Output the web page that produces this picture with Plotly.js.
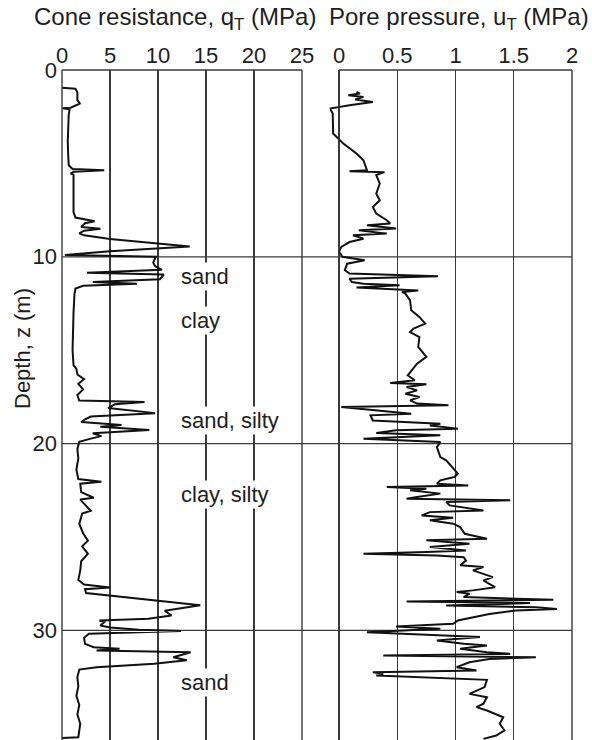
<!DOCTYPE html>
<html>
<head>
<meta charset="utf-8">
<script src="https://cdn.plot.ly/plotly-3.0.1.min.js"></script>
<style>html,body{margin:0;padding:0;background:#fff;}#chart{width:592px;height:740px;}</style>
</head>
<body>
<div id="chart"></div>
<script>
// Cone resistance profile: depth (m) and q_T (MPa)
const qDepth = [0.95,1.0,1.2,1.6,1.8,1.95,2.02,2.05,2.1,2.4,3.0,3.8,4.6,5.1,5.3,5.37,5.45,5.55,5.6,6.2,7.0,7.6,7.9,8.0,8.1,8.2,8.4,8.5,8.6,8.75,8.85,9.05,9.45,9.7,9.9,10.0,10.3,10.5,10.7,10.85,10.95,11.2,11.35,11.45,11.55,11.7,12.0,13.0,14.0,15.0,15.8,16.0,16.3,16.55,16.8,17.1,17.4,17.7,17.78,17.9,18.1,18.37,18.55,18.7,18.85,19.0,19.1,19.27,19.45,19.6,19.75,19.9,20.3,20.8,21.4,21.9,22.05,22.15,22.6,22.9,23.0,23.25,23.6,23.75,24.3,24.8,25.2,25.5,25.9,26.3,26.8,27.3,27.55,27.7,27.8,28.0,28.65,28.95,29.2,29.38,29.47,29.56,29.74,29.85,29.97,30.04,30.18,30.4,30.72,30.9,30.99,31.08,31.17,31.44,31.6,31.79,31.97,32.1,32.5,33.0,33.5,34.0,34.5,35.0,35.5,35.72,35.76];
const qValue = [0.0,1.4,1.6,1.6,1.85,1.3,0.9,0.05,0.8,0.7,0.65,0.6,0.65,0.7,1.1,4.4,1.2,0.9,1.2,1.2,1.15,1.2,1.4,2.5,3.4,2.4,2.0,4.0,2.3,1.8,2.3,5.0,13.3,5.0,0.3,9.8,9.5,9.7,10.4,2.6,10.6,10.2,3.2,7.8,2.2,1.4,1.3,1.2,1.15,1.1,1.2,1.5,1.6,2.3,1.7,2.2,1.6,1.8,8.6,5.5,4.8,9.7,3.0,2.4,2.0,6.2,4.0,9.1,3.2,4.1,2.9,1.8,1.6,1.7,1.5,1.7,4.1,1.9,2.0,3.3,1.9,2.4,3.0,2.1,1.8,2.2,2.7,2.1,2.7,2.0,1.9,1.7,2.3,5.0,2.4,2.5,14.4,10.7,11.4,9.0,3.9,4.4,4.0,5.0,8.0,12.4,2.8,2.3,2.4,3.3,6.0,3.6,13.4,11.6,13.0,9.6,3.6,1.8,1.6,1.7,1.5,1.8,1.6,1.9,1.8,1.7,0.0];

// Pore pressure profile: depth (m) and u_T (MPa)
const uDepth = [1.17,1.26,1.35,1.44,1.58,1.71,1.89,2.06,2.33,3.4,3.94,4.47,4.83,5.37,5.42,5.47,5.63,6.08,6.62,6.97,7.33,7.69,8.04,8.22,8.31,8.49,8.58,8.76,8.85,9.03,9.21,9.47,9.74,10.0,10.19,10.37,10.72,10.9,11.04,11.17,11.35,11.44,11.53,11.65,11.8,11.88,11.97,12.33,12.86,13.22,13.58,13.85,14.03,14.3,14.83,15.36,15.72,16.08,16.35,16.61,16.76,16.83,16.97,17.15,17.33,17.51,17.69,17.86,17.95,18.04,18.22,18.4,18.49,18.76,18.94,19.03,19.2,19.29,19.44,19.56,19.74,19.92,20.19,20.72,20.9,21.26,21.61,21.79,21.97,22.15,22.24,22.33,22.42,22.5,22.6,22.68,22.86,22.95,23.04,23.13,23.31,23.58,23.67,23.85,23.97,24.11,24.29,24.47,24.83,25.09,25.18,25.36,25.54,25.72,25.81,25.9,25.99,26.08,26.26,26.52,26.61,26.79,27.15,27.33,27.51,27.69,27.86,27.95,28.04,28.22,28.36,28.45,28.54,28.67,28.76,28.85,28.94,29.12,29.47,29.65,29.8,29.92,30.1,30.27,30.36,30.54,30.72,30.81,30.99,31.17,31.26,31.35,31.44,31.53,31.71,31.97,32.15,32.24,32.33,32.42,32.6,32.65,33.04,33.4,33.58,33.93,34.11,34.29,34.65,35.0,35.36,35.63,35.81];
const uValue = [0.15,0.18,0.08,0.21,0.14,0.29,0.09,-0.077,-0.054,-0.05,0.037,0.15,0.21,0.24,0.09,0.39,0.32,0.35,0.32,0.35,0.29,0.32,0.41,0.44,0.24,0.49,0.17,0.41,0.12,0.21,0.09,0.02,0.0,0.03,0.22,0.07,0.05,0.09,0.85,0.09,0.11,0.21,0.52,0.15,0.68,0.54,0.57,0.61,0.62,0.69,0.74,0.64,0.61,0.69,0.68,0.75,0.67,0.62,0.59,0.65,0.44,0.75,0.58,0.67,0.57,0.69,0.61,0.67,0.94,0.02,0.32,0.62,0.27,0.29,0.87,0.78,1.02,0.49,0.32,0.87,0.21,0.87,0.84,0.87,0.92,0.97,1.02,0.99,0.87,0.84,1.11,0.41,0.75,0.61,0.78,0.87,0.67,0.58,1.47,0.92,0.95,1.24,0.78,0.71,0.98,0.78,0.98,1.04,1.08,1.27,0.75,1.12,0.78,1.09,0.75,0.21,0.84,1.07,1.09,1.04,1.24,1.15,1.32,1.24,1.29,1.34,1.15,1.01,1.12,1.07,1.84,0.58,1.64,0.92,1.69,1.87,1.52,1.29,1.02,0.98,0.49,0.87,0.24,0.87,1.21,0.84,1.07,1.27,1.04,1.27,1.47,0.38,1.69,1.29,1.12,1.01,1.18,0.29,0.38,0.32,1.01,1.27,1.25,1.12,1.27,1.24,1.18,1.27,1.41,1.38,1.42,1.35,1.24];

// Axis ticks and labels
const qTicks = [0, 5, 10, 15, 20, 25];
const uTicks = [0, 0.5, 1, 1.5, 2];
const uTickText = ['0', '0.5', '1', '1.5', '2'];
const depthTicks = [0, 10, 20, 30];
const depthLines = [10, 20, 30];
const layerNames = ['sand', 'clay', 'sand, silty', 'clay, silty', 'sand'];
const layerDepths = [11.05, 13.4, 18.75, 22.72, 32.8];

const FONT = 'Liberation Sans, Arial, Helvetica, sans-serif';
const TXT = '#1e1e1e';
const GRID = '#3a3a3a';

const W = 592, H = 740, ML = 62, MR = 20, MT = 70, MB = 0;
const PW = W - ML - MR, PH = H - MT - MB;
const leftEnd = (302 - ML) / PW;
const rightStart = (339 - ML) / PW;
const uMin = -0.08;
const x2Start = rightStart - (0 - uMin) * ((1 - rightStart) / 2);

const traces = [
  {x: qValue, y: qDepth, xaxis: 'x', yaxis: 'y', mode: 'lines', type: 'scatter',
   line: {color: '#111', width: 2}, hoverinfo: 'skip', showlegend: false},
  {x: uValue, y: uDepth, xaxis: 'x2', yaxis: 'y', mode: 'lines', type: 'scatter',
   line: {color: '#111', width: 2}, hoverinfo: 'skip', showlegend: false}
];

const borderLine = {color: GRID, width: 1.4};
const shapes = [];
depthLines.forEach(d => shapes.push({type: 'line', xref: 'paper', yref: 'y', x0: 0, x1: 1, y0: d, y1: d, line: {color: GRID, width: 1.3}, layer: 'below'}));
[[0, leftEnd], [rightStart, 1]].forEach(([a, b]) => {
  shapes.push({type: 'line', xref: 'paper', yref: 'paper', x0: a, x1: b, y0: 1, y1: 1, line: borderLine});
  shapes.push({type: 'line', xref: 'paper', yref: 'paper', x0: a, x1: a, y0: 0, y1: 1, line: borderLine});
  shapes.push({type: 'line', xref: 'paper', yref: 'paper', x0: b, x1: b, y0: 0, y1: 1, line: borderLine});
});

const annotations = [
  {text: 'Cone resistance, q<sub>T</sub> (MPa)', xref: 'paper', yref: 'paper', x: (175 - ML) / PW, y: (H - 19) / PH,
   xanchor: 'center', yanchor: 'middle', showarrow: false, font: {family: FONT, size: 24, color: TXT}},
  {text: 'Pore pressure, u<sub>T</sub> (MPa)', xref: 'paper', yref: 'paper', x: (459 - ML) / PW, y: (H - 19) / PH,
   xanchor: 'center', yanchor: 'middle', showarrow: false, font: {family: FONT, size: 24, color: TXT}},
  {text: 'Depth, z (m)', xref: 'paper', yref: 'paper', x: (22 - ML) / PW, y: (H - 349) / PH, textangle: -90,
   xanchor: 'center', yanchor: 'middle', showarrow: false, font: {family: FONT, size: 22, color: TXT}}
];
layerNames.forEach((name, i) => annotations.push({text: name, xref: 'x', yref: 'y', x: 12.2, y: layerDepths[i],
  xanchor: 'left', yanchor: 'middle', showarrow: false, bgcolor: '#fff', borderpad: 1,
  font: {family: FONT, size: 22, color: TXT}}));

const layout = {
  width: W, height: H,
  margin: {l: ML, r: MR, t: MT, b: MB, pad: 0},
  paper_bgcolor: '#fff', plot_bgcolor: 'rgba(0,0,0,0)',
  font: {family: FONT, color: TXT},
  showlegend: false,
  xaxis: {domain: [0, leftEnd], range: [0, 25], side: 'top', anchor: 'y',
    tickmode: 'array', tickvals: qTicks, ticktext: qTicks.map(String), ticks: '', ticklabelstandoff: 2,
    showgrid: true, gridcolor: GRID, gridwidth: 1.2, zeroline: false, showline: false,
    tickfont: {family: FONT, size: 22, color: TXT}, fixedrange: true},
  xaxis2: {domain: [x2Start, 1], range: [uMin, 2], side: 'top', anchor: 'y',
    tickmode: 'array', tickvals: uTicks, ticktext: uTickText, ticks: '', ticklabelstandoff: 2,
    showgrid: true, gridcolor: GRID, gridwidth: 1.2, zeroline: false, showline: false,
    tickfont: {family: FONT, size: 22, color: TXT}, fixedrange: true},
  yaxis: {domain: [0, 1], range: [35.87, 0], anchor: 'x',
    tickmode: 'array', tickvals: depthTicks, ticktext: depthTicks.map(String), ticks: '', ticklabelstandoff: 4,
    showgrid: false, zeroline: false, showline: false,
    tickfont: {family: FONT, size: 22, color: TXT}, fixedrange: true},
  shapes: shapes,
  annotations: annotations
};

Plotly.newPlot('chart', traces, layout, {staticPlot: true, displayModeBar: false});
</script>
</body>
</html>
